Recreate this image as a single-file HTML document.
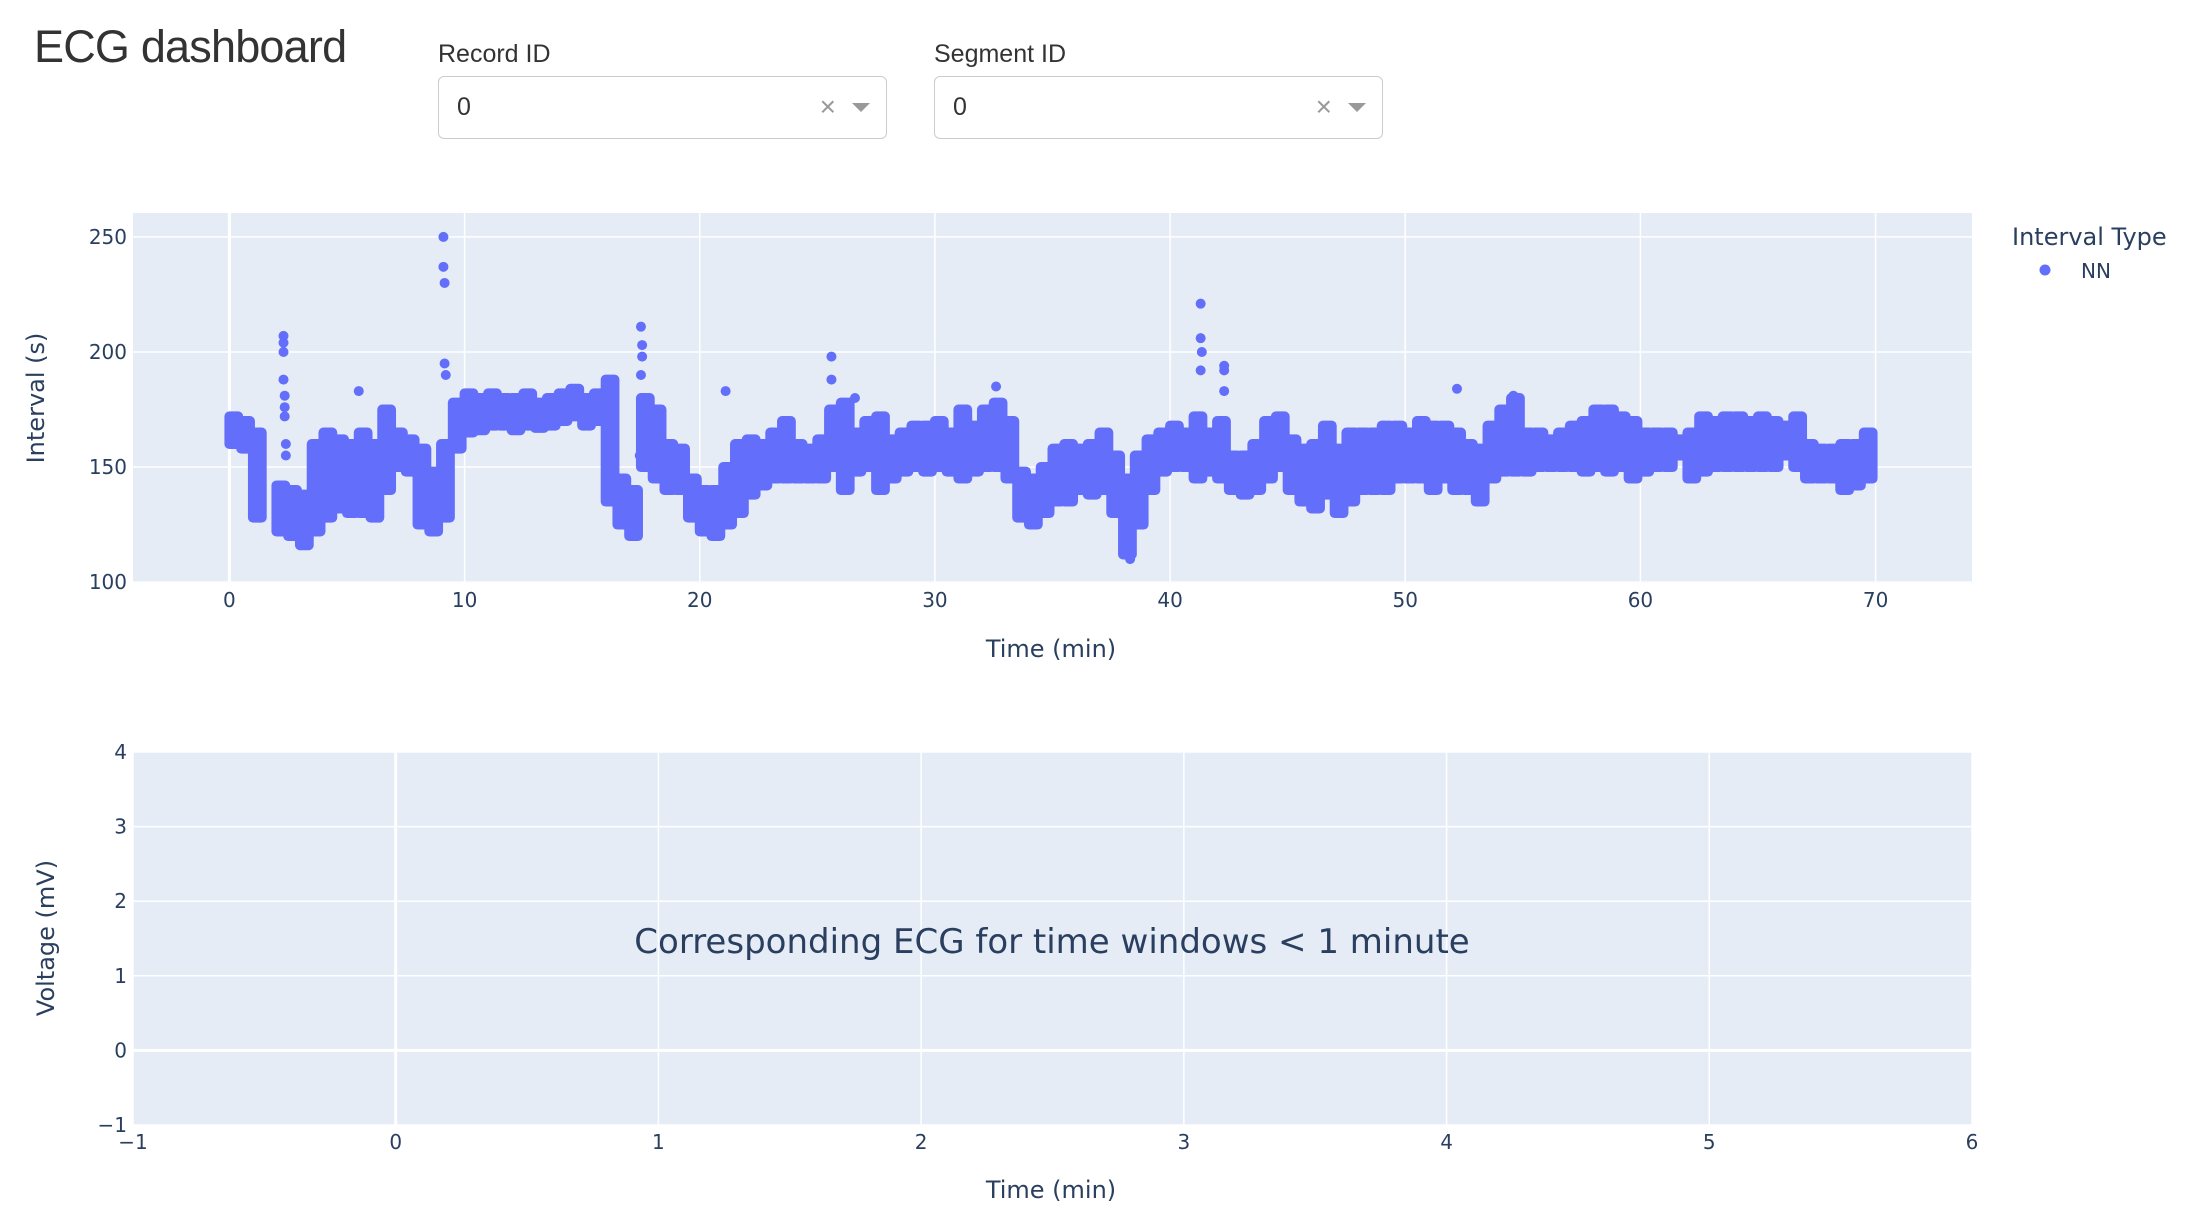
<!DOCTYPE html>
<html><head><meta charset="utf-8">
<style>
body{margin:0;width:2196px;height:1222px;background:#fff;overflow:hidden;font-family:"Liberation Sans",Arial,sans-serif;position:relative}
.t{position:absolute;color:#333}
.dd{position:absolute;top:76px;width:449px;height:63px;border:1px solid #ccc;border-radius:6px;box-sizing:border-box;background:#fff}
.dd .v{position:absolute;left:18px;top:16px;font-size:25px;color:#333}
.dd .x{position:absolute;right:50px;top:14px;font-size:28px;color:#999}
.dd .a{position:absolute;right:16px;top:26px;width:0;height:0;border-left:9px solid transparent;border-right:9px solid transparent;border-top:9px solid #999}
svg{position:absolute;left:0;top:0}
svg text{font-family:"DejaVu Sans",sans-serif;fill:#2a3f5f}
</style></head><body>
<div class="t" style="left:34px;top:21px;font-size:45px;letter-spacing:-0.8px">ECG dashboard</div>
<div class="t" style="left:438px;top:40px;font-size:25px">Record ID</div>
<div class="t" style="left:934px;top:40px;font-size:25px">Segment ID</div>
<div class="dd" style="left:438px"><span class="v">0</span><span class="x">×</span><span class="a"></span></div>
<div class="dd" style="left:934px"><span class="v">0</span><span class="x">×</span><span class="a"></span></div>
<svg id="s" width="2196" height="1222"></svg>
<script>
const binTimes=[0,0.5,1,2,2.5,3,3.5,4,4.5,5,5.5,6,6.5,7,7.5,8,8.5,9,9.5,10,10.5,11,11.5,12,12.5,13,13.5,14,14.5,15,15.5,16,16.5,17,17.5,18,18.5,19,19.5,20,20.5,21,21.5,22,22.5,23,23.5,24,24.5,25,25.5,26,26.5,27,27.5,28,28.5,29,29.5,30,30.5,31,31.5,32,32.5,33,33.5,34,34.5,35,35.5,36,36.5,37,37.5,38,38.5,39,39.5,40,40.5,41,41.5,42,42.5,43,43.5,44,44.5,45,45.5,46,46.5,47,47.5,48,48.5,49,49.5,50,50.5,51,51.5,52,52.5,53,53.5,54,54.5,55,55.5,56,56.5,57,57.5,58,58.5,59,59.5,60,60.5,61,61.5,62,62.5,63,63.5,64,64.5,65,65.5,66,66.5,67,67.5,68,68.5,69,69.5];
const binLow=[160,158,128,122,120,116,122,128,132,130,130,128,140,150,148,125,122,128,158,165,166,168,168,166,168,167,168,170,172,168,170,135,125,120,150,145,140,140,128,122,120,125,130,138,142,145,145,145,145,145,150,140,148,150,140,145,148,150,148,150,148,145,148,150,150,145,128,125,130,135,135,140,138,140,130,112,125,140,148,150,150,145,148,145,140,138,140,145,150,140,135,132,138,130,135,140,140,140,145,145,145,140,145,140,140,135,145,148,148,148,150,150,150,150,148,150,148,150,145,148,150,150,155,145,148,150,150,150,150,150,150,155,150,145,145,145,140,142,145];
const binHigh=[172,170,165,142,140,138,160,165,162,160,165,160,175,165,162,158,148,160,178,182,180,182,180,180,182,178,180,182,184,180,182,188,145,140,180,175,160,158,145,140,140,150,160,162,160,165,170,160,158,162,175,178,165,170,172,162,165,168,168,170,165,175,168,175,178,170,148,145,150,158,160,158,160,165,155,145,155,162,165,168,165,172,165,170,155,155,160,170,172,162,158,160,168,158,165,165,165,168,168,165,170,168,168,165,160,158,168,175,180,165,165,162,165,168,170,175,175,172,170,165,165,165,162,165,172,170,172,172,170,172,170,168,172,160,158,158,160,160,165];
const spikeTimes=[2.3,2.3,2.3,2.3,2.35,2.35,2.35,2.4,2.4,5.5,9.1,9.1,9.15,9.15,9.2,17.5,17.55,17.55,17.5,17.45,21.1,25.6,25.6,26.6,32.6,41.3,41.3,41.35,41.3,42.3,42.3,42.3,52.2,54.6,38.3];
const spikeValues=[207,204,200,188,181,176,172,160,155,183,250,237,230,195,190,211,203,198,190,155,183,198,188,180,185,221,206,200,192,194,192,183,184,181,110];
const xTicks1=[0,10,20,30,40,50,60,70];
const yTicks1=[100,150,200,250];
const xTicks2=[-1,0,1,2,3,4,5,6];
const yTicks2=[-1,0,1,2,3,4];

const S=document.getElementById('s');const NS='http://www.w3.org/2000/svg';
function mk(t,a,p){const e=document.createElementNS(NS,t);for(const k in a)e.setAttribute(k,a[k]);(p||S).appendChild(e);return e;}
const P1={l:133,r:1972,t:213,b:583,x0:-4.1,x1:74.1,y0:99.6,y1:260.4};
const P2={l:133,r:1972,t:752,b:1125,x0:-1,x1:6,y0:-1,y1:4};
const X=(p,v)=>p.l+(v-p.x0)/(p.x1-p.x0)*(p.r-p.l);
const Y=(p,v)=>p.b-(v-p.y0)/(p.y1-p.y0)*(p.b-p.t);
function frame(p,xt,yt,name){
  const bg=mk('rect',{x:p.l,y:p.t,width:p.r-p.l,height:p.b-p.t,fill:'#e5ecf6'});
  
  xt.forEach(v=>{const g=mk('line',{x1:X(p,v),x2:X(p,v),y1:p.t,y2:p.b,stroke:'#fff','stroke-width':v===0?3:1.5});
    
    const t=mk('text',{x:X(p,v),y:p.b+24,'text-anchor':'middle','font-size':20});t.textContent=v<0?'\u2212'+(-v):v;
    });
  yt.forEach(v=>{const g=mk('line',{x1:p.l,x2:p.r,y1:Y(p,v),y2:Y(p,v),stroke:'#fff','stroke-width':v===0?3:1.5});
    
    const t=mk('text',{x:p.l-6,y:Y(p,v)+7,'text-anchor':'end','font-size':20});t.textContent=v<0?'\u2212'+(-v):v;
    });
}
frame(P1,xTicks1,yTicks1,'interval');
frame(P2,xTicks2,yTicks2,'ecg');
const col='#636efa',R=5;
binTimes.forEach((t,i)=>{
  const x1=X(P1,t),x2=X(P1,t+0.5),yh=Y(P1,binHigh[i]),yl=Y(P1,binLow[i]);
  const r=mk('rect',{x:x1-R,y:yh-R,width:x2-x1+2*R-3,height:yl-yh+2*R,rx:R,fill:col});
  
});
spikeTimes.forEach((t,i)=>{
  const c=mk('circle',{cx:X(P1,t),cy:Y(P1,spikeValues[i]),r:R,fill:col});
  
});
function txt(s,a,name){const t=mk('text',a);t.textContent=s;return t;}
txt('Time (min)',{x:1051,y:657,'text-anchor':'middle','font-size':24},'x-axis-title');
txt('Interval (s)',{x:44,y:398,'text-anchor':'middle','font-size':24,transform:'rotate(-90 44 398)'},'y-axis-title');
txt('Time (min)',{x:1051,y:1198,'text-anchor':'middle','font-size':24},'x-axis-title-ecg');
txt('Voltage (mV)',{x:54,y:938,'text-anchor':'middle','font-size':24,transform:'rotate(-90 54 938)'},'y-axis-title-ecg');
txt('Corresponding ECG for time windows < 1 minute',{x:1052,y:953,'text-anchor':'middle','font-size':34},'ecg-annotation');
txt('Interval Type',{x:2012,y:245,'font-size':24},'legend-title');
const lm=mk('circle',{cx:2045,cy:270,r:5.5,fill:col});
const lt=txt('NN',{x:2081,y:278,'font-size':20},'legend-entry-nn');
</script>
</body></html>
